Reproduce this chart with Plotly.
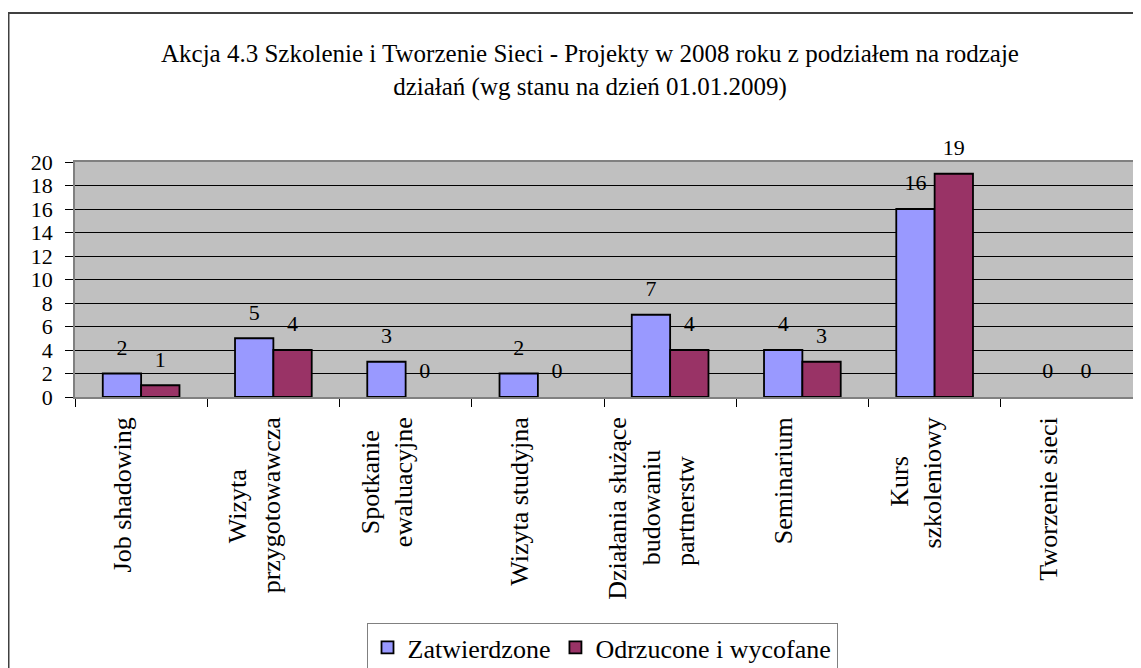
import plotly.graph_objects as go

# ---- data ----
category_lines = [
    ["Job shadowing"],
    ["Wizyta", "przygotowawcza"],
    ["Spotkanie", "ewaluacyjne"],
    ["Wizyta studyjna"],
    ["Działania służące", "budowaniu", "partnerstw"],
    ["Seminarium"],
    ["Kurs", "szkoleniowy"],
    ["Tworzenie sieci"],
]
zatwierdzone = [2, 5, 3, 2, 7, 4, 16, 0]
odrzucone = [1, 4, 0, 0, 4, 3, 19, 0]
series_names = ["Zatwierdzone", "Odrzucone i wycofane"]
y_tick_values = list(range(0, 21, 2))
title_text = ("Akcja 4.3 Szkolenie i Tworzenie Sieci - Projekty w 2008 roku z podziałem na rodzaje"
              "<br>działań (wg stanu na dzień 01.01.2009)")

categories = ["<br>".join(lines) for lines in category_lines]
category_index = list(range(len(categories)))

# ---- styling ----
FONT = "Liberation Serif"
W, H = 1141, 668
OFF = 8                      # page offset of the figure in the browser window
PL, PR, PT, PB = 75, 1133, 162, 397   # plot area edges in window pixels
L, T = PL - OFF, PT - OFF
R, B = W - (PR - OFF), H - (PB - OFF)
colors = ["#9999FF", "#993366"]
label_lift = 0.9      # value units the value-label axis is shifted by
label_shift = 0.14    # category units the category labels sit left of centre

# approximate Times/Liberation Serif advance widths (em) to centre wrapped lines
_cw = {" ": .25, "a": .444, "b": .5, "c": .444, "d": .5, "e": .444, "g": .5, "h": .5,
       "i": .278, "j": .278, "k": .5, "l": .278, "m": .778, "n": .5, "o": .5, "p": .5,
       "r": .333, "s": .389, "t": .278, "u": .5, "w": .722, "y": .5, "z": .444,
       "ł": .278, "ą": .444, "ż": .444, "ę": .444, "J": .389, "W": .944, "S": .556,
       "D": .722, "K": .722, "T": .611}


def _w(s):
    return sum(_cw.get(ch, .5) for ch in s)


def centred(lines):
    m = max(_w(s) for s in lines)
    out = []
    for s in lines:
        n = int(round((m - _w(s)) / 2 / .25))
        out.append(s + ("\u00a0" * n + "\u200b" if n else ""))
    return "<br>".join(out)


tick_text = [centred(lines) for lines in category_lines]

fig = go.Figure()
for name, vals, col in zip(series_names, [zatwierdzone, odrzucone], colors):
    fig.add_trace(go.Bar(
        x=categories, y=vals, name=name,
        marker=dict(color=col, line=dict(color="#000000",
                                         width=[1.8 if v else 0 for v in vals])),
        hoverinfo="x+y+name",
    ))
# value labels (transparent bars on a slightly shifted overlay axis)
for name, vals in zip(series_names, [zatwierdzone, odrzucone]):
    fig.add_trace(go.Bar(
        x=categories, y=vals, name=name, yaxis="y2", showlegend=False,
        marker=dict(color="rgba(0,0,0,0)", line=dict(width=0)),
        text=[str(v) for v in vals], textposition="outside", cliponaxis=False,
        textfont=dict(family=FONT, size=22, color="#000000"),
        hoverinfo="skip",
    ))
# carrier for the category-label axis (invisible)
fig.add_trace(go.Scatter(
    x=category_index, y=zatwierdzone, xaxis="x2", mode="markers",
    marker=dict(opacity=0, size=1), showlegend=False, hoverinfo="skip",
))

ph = H - T - B
pw = W - L - R
fig.add_shape(type="rect", xref="paper", yref="paper",
              x0=(0.5 - L) / pw, x1=(W + 20 - L) / pw,
              y0=-(H + 20 - (H - B)) / ph, y1=((H - B) - (13 - OFF)) / ph,
              line=dict(color="#404040", width=2), fillcolor="rgba(0,0,0,0)", layer="below")

fig.update_layout(
    template="none",
    width=W, height=H,
    margin=dict(l=L, r=R, t=T, b=B, pad=0, autoexpand=False),
    paper_bgcolor="#FFFFFF", plot_bgcolor="#C0C0C0",
    barmode="group", bargap=0.42, bargroupgap=0,
    font=dict(family=FONT, size=22, color="#000000"),
    title=dict(text=title_text, x=(590 - OFF) / W, xanchor="center",
               y=1 - 54 / H, yanchor="top",
               font=dict(family=FONT, size=25, color="#000000")),
    showlegend=True,
    legend=dict(orientation="h", xref="container", yref="container",
                x=(602 - OFF) / W, xanchor="center", y=1 - (623 - OFF) / H, yanchor="top",
                bordercolor="#808080", borderwidth=1, bgcolor="#FFFFFF",
                font=dict(family=FONT, size=26, color="#000000"),
                itemwidth=30, tracegroupgap=0),
    xaxis=dict(type="category", tickson="boundaries", ticks="outside", ticklen=8,
               tickcolor="#000000", tickwidth=1, showticklabels=False,
               automargin=False,
               showline=True, linecolor="#808080", linewidth=1.5, mirror=True,
               showgrid=False, zeroline=False, fixedrange=True),
    xaxis2=dict(overlaying="x", anchor="y", side="bottom", type="linear",
                range=[-0.5 + label_shift, len(categories) - 0.5 + label_shift],
                tickvals=category_index, ticktext=tick_text,
                tickangle=-90, ticks="", ticklabelstandoff=14,
                tickfont=dict(family=FONT, size=26, color="#000000"),
                showline=False, showgrid=False, zeroline=False, automargin=False,
                fixedrange=True),
    yaxis=dict(range=[0, 20], tickvals=y_tick_values, ticks="outside", ticklen=8,
               tickcolor="#000000", tickwidth=1, automargin=False,
               ticklabelstandoff=8,
               tickfont=dict(family=FONT, size=22, color="#000000"),
               showline=True, linecolor="#808080", linewidth=1.5, mirror=True,
               showgrid=True, gridcolor="#000000", gridwidth=1, zeroline=False,
               fixedrange=True),
    yaxis2=dict(overlaying="y", range=[-label_lift, 20 - label_lift], visible=False,
                automargin=False, fixedrange=True),
)

fig.write_html("out.html")
